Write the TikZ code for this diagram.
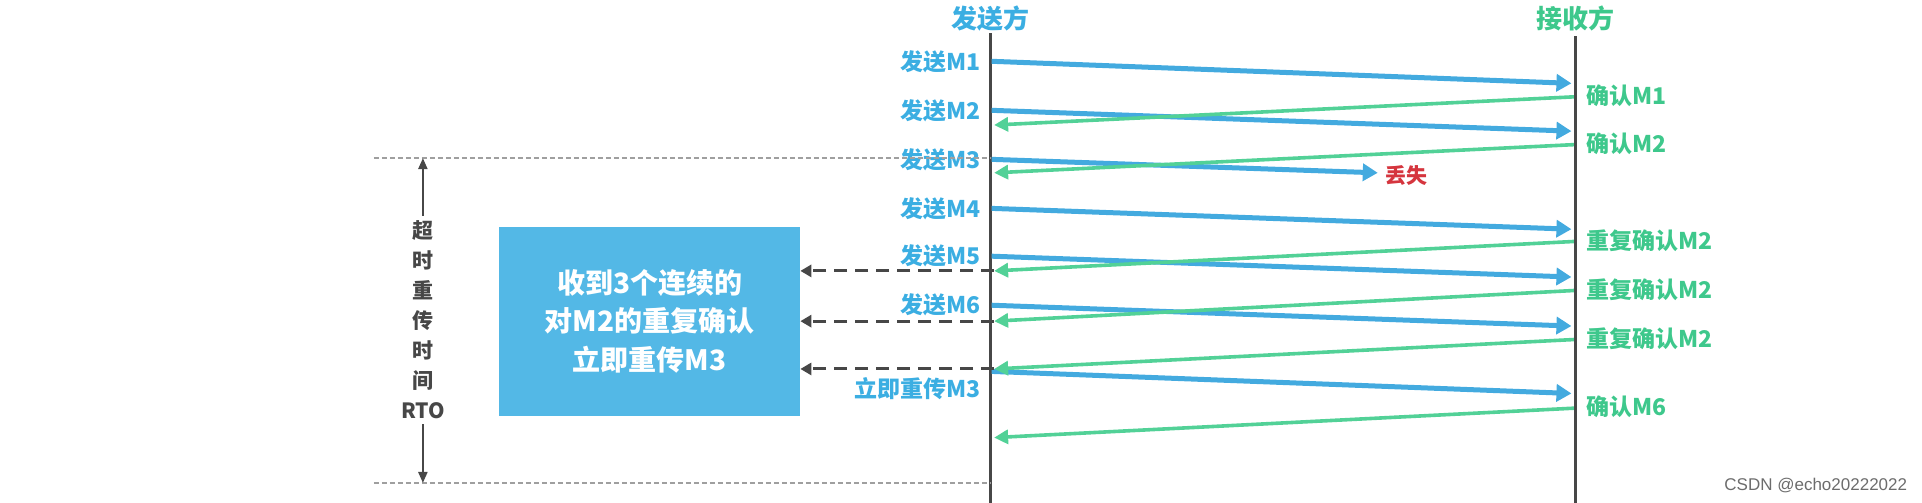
\documentclass[tikz,border=0pt]{standalone}
\usepackage{fontspec}
\setmainfont{Noto Sans CJK SC}
\newfontfamily\markfont{Liberation Sans}
\usetikzlibrary{arrows.meta}

\definecolor{sendblue}{HTML}{43AADF}
\definecolor{ackgreen}{HTML}{52D197}
\definecolor{msgblue}{HTML}{3BAEE2}
\definecolor{msggreen}{HTML}{3EC88C}
\definecolor{lossred}{HTML}{D5353E}
\definecolor{noteblue}{HTML}{53B8E6}
\definecolor{linegray}{HTML}{474747}

\newcommand{\partyfont}{\bfseries\fontsize{26}{26}\selectfont}
\newcommand{\msgfont}{\bfseries\fontsize{23}{23}\selectfont}
\newcommand{\notefont}{\bfseries\fontsize{28}{38.6}\selectfont}
\newcommand{\lossfont}{\bfseries\fontsize{21}{21}\selectfont}
\newcommand{\rtofont}{\bfseries\fontsize{21}{30}\selectfont}

\begin{document}
\begin{tikzpicture}[x=1.2258pt,y=-1.2258pt,
  timeline/.style={draw=linegray,line width=2.8pt},
  sendarrow/.style={draw=sendblue,line width=5pt,-{Triangle[length=15pt,width=17pt]}},
  ackarrow/.style={draw=ackgreen,line width=3.6pt,-{Triangle[length=14pt,width=14pt]}},
  sendlabel/.style={text=msgblue,font=\msgfont,anchor=east,inner sep=0pt},
  acklabel/.style={text=msggreen,font=\msgfont,anchor=west,inner sep=0pt},
  hintarrow/.style={draw=linegray,line width=3pt,dash pattern=on 13pt off 8pt,-{Triangle[length=11pt,width=12pt]}},
  rtoline/.style={draw=gray!75,line width=1.3pt,dash pattern=on 5pt off 3pt},
  rtoarrow/.style={draw=linegray,line width=2.2pt,-{Triangle[length=11pt,width=9pt]}},
  notebox/.style={fill=noteblue,text=white,font=\notefont,align=center,
    minimum width=301pt,minimum height=189pt}
]
\useasboundingbox (0,0) rectangle (1568,410);

% sender and receiver time lines
\node[text=msgblue,font=\partyfont,inner sep=2pt] (sender) at (808,15) {发送方};
\node[text=msggreen,font=\partyfont,inner sep=5pt] (receiver) at (1285,15) {接收方};
\coordinate (sender end) at (808,412);
\coordinate (receiver end) at (1285,412);
\draw[timeline] (sender.south) -- (sender end);
\draw[timeline] (receiver.south) -- (receiver end);

% segments that arrive
\foreach \n/\ys/\yr in {1/50/68, 2/90/107, 4/170/187, 5/209/226, 6/249/266} {
  \node[sendlabel] (send\n) at (800,\ys) {发送M\n};
  \coordinate (tx\n) at (809,\ys);
  \coordinate (rx\n) at (1282,\yr);
  \draw[sendarrow] (tx\n) -- (rx\n);
}

% segment that gets lost
\node[sendlabel] (send3) at (800,130) {发送M3};
\coordinate (tx3) at (809,130);
\coordinate (rx3) at (1124,141);
\node[text=lossred,font=\lossfont,anchor=west,inner sep=0pt] (lost) at (1130,143) {丢失};
\draw[sendarrow] (tx3) -- (rx3);

% fast retransmit
\node[sendlabel] (resend) at (800,317) {立即重传M3};
\coordinate (tx7) at (809,303);
\coordinate (rx7) at (1282,321);
\draw[sendarrow] (tx7) -- (rx7);

% acknowledgements
\foreach \n/\yr/\ys/\txt in {a/79/102/确认M1, b/118/141/确认M2, c/197/221/重复确认M2,
    d/237/262/重复确认M2, e/277/301/重复确认M2, f/333/357/确认M6} {
  \node[acklabel] (ack\n) at (1294,\yr-1) {\txt};
  \coordinate (ackout\n) at (1284,\yr);
  \coordinate (ackin\n) at (811,\ys);
  \draw[ackarrow] (ackout\n) -- (ackin\n);
}

% note box
\node[notebox] (note) at (530,262) {收到3个连续的\\对M2的重复确认\\立即重传M3};
\foreach \n in {c,d,e}
  \draw[hintarrow] (ackin\n) -- (note.east |- ackin\n);

% retransmission timeout
\coordinate (rto top) at (305,129);
\coordinate (rto bottom) at (305,394);
\draw[rtoline] (rto top) -- (rto top -| sender);
\draw[rtoline] (rto bottom) -- (rto bottom -| sender);
\node[text=linegray,font=\rtofont,align=center,inner sep=5pt] (rto) at (345,261)
  {超\\时\\重\\传\\时\\间\\RTO};
\draw[rtoarrow] (rto.north) -- (rto.north |- rto top);
\draw[rtoarrow] (rto.south) -- (rto.south |- rto bottom);

% watermark
\node[text=gray!85!black,font=\markfont\fontsize{17}{17}\selectfont,anchor=east,inner sep=0pt]
  (mark) at (1556,396) {CSDN @echo20222022};
\end{tikzpicture}
\end{document}
